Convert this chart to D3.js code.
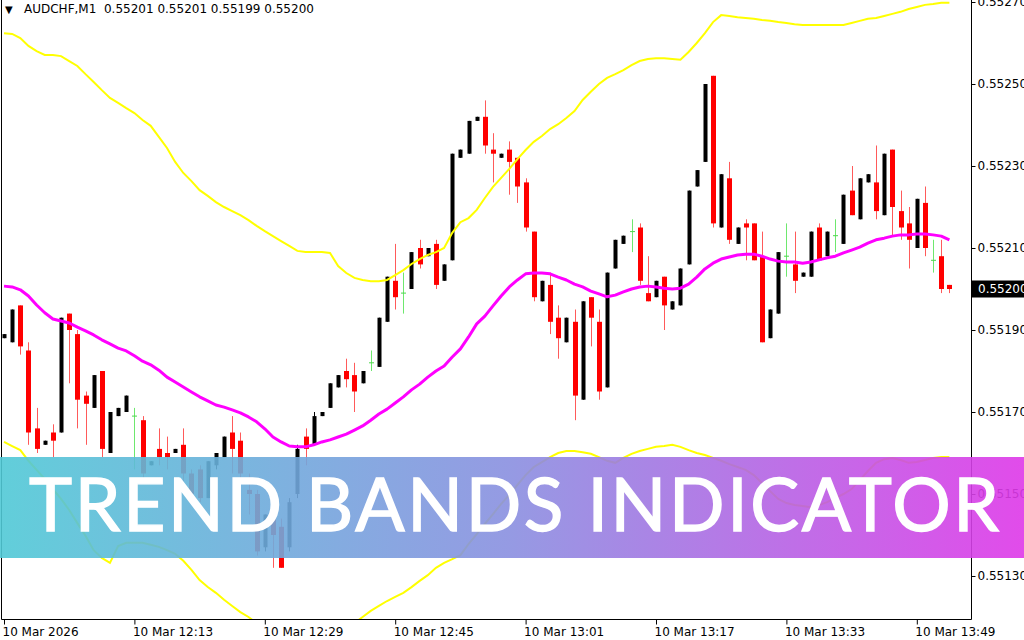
<!DOCTYPE html>
<html>
<head>
<meta charset="utf-8">
<script src="https://cdn.jsdelivr.net/npm/d3@7"></script>
<style>
  html, body { margin: 0; padding: 0; background: #fff; }
  svg { display: block; }
</style>
</head>
<body>
<div id="chart"><svg width="1024" height="640"></svg></div>
<script>
// AUDCHF M1, one value per bar
var symbol = "AUDCHF,M1";
var openP = [.55188,.55187,.55196,.55185,.55166,.55162,.55165,.55165,.55194,.55189,.55174,.55171,.55180,.55160,.55169,.55170,.55169,.55168,.55157,.55161,.55160,.55160,.55162,.55155,.55156,.55149,.55157,.55159,.55165,.55163,.55151,.55150,.55137,.55144,.55142,.55137,.55150,.55164,.55162,.55169,.55171,.55176,.55180,.55179,.55177,.55182,.55181,.55192,.55202,.55199,.55200,.55210,.55208,.55211,.55202,.55207,.55232,.55233,.55241,.55242,.55234,.55232,.55234,.55232,.55226,.55214,.55197,.55201,.55193,.55187,.55192,.55173,.55198,.55192,.55176,.55205,.55211,.55214,.55215,.55199,.55198,.55203,.55195,.55196,.55206,.55225,.55231,.55252,.55215,.55227,.55211,.55216,.55216,.55208,.55188,.55194,.55208,.55206,.55203,.55203,.55215,.55208,.55213,.55211,.55224,.55217,.55226,.55226,.55218,.55234,.55219,.55216,.55210,.55221,.55207,.55208,.55201];
var highP = [.55189,.55195,.55196,.55187,.55171,.55163,.55167,.55193,.55194,.55190,.55175,.55179,.55180,.55170,.55171,.55174,.55171,.55169,.55158,.55166,.55164,.55161,.55166,.55156,.55157,.55158,.55160,.55164,.55169,.55165,.55155,.55151,.55145,.55145,.55144,.55149,.55162,.55166,.55170,.55170,.55177,.55179,.55183,.55182,.55180,.55185,.55193,.55203,.55211,.55204,.55209,.55212,.55210,.55212,.55206,.55233,.55234,.55241,.55242,.55246,.55238,.55233,.55236,.55232,.55227,.55214,.55202,.55204,.55196,.55193,.55195,.55197,.55198,.55195,.55204,.55212,.55213,.55217,.55216,.55208,.55202,.55203,.55197,.55205,.55224,.55229,.55250,.55252,.55228,.55231,.55215,.55217,.55216,.55214,.55195,.55209,.55216,.55214,.55204,.55214,.55216,.55214,.55217,.55223,.55230,.55227,.55228,.55235,.55233,.55234,.55224,.55220,.55222,.55225,.55212,.55212,.55201];
var lowP = [.55188,.55187,.55184,.55162,.55160,.55162,.55159,.55165,.55177,.55166,.55162,.55171,.55159,.55160,.55169,.55170,.55156,.55153,.55157,.55157,.55156,.55160,.55153,.55149,.55148,.55149,.55156,.55159,.55155,.55154,.55145,.55135,.55136,.55132,.55132,.55136,.55149,.55157,.55162,.55169,.55171,.55176,.55176,.55170,.55177,.55180,.55181,.55192,.55195,.55194,.55200,.55205,.55208,.55200,.55202,.55207,.55232,.55233,.55241,.55233,.55226,.55232,.55223,.55221,.55214,.55197,.55197,.55189,.55183,.55187,.55168,.55173,.55186,.55173,.55176,.55205,.55211,.55209,.55201,.55197,.55198,.55190,.55195,.55196,.55206,.55225,.55231,.55215,.55215,.55211,.55211,.55207,.55207,.55187,.55188,.55194,.55203,.55199,.55203,.55203,.55207,.55208,.55209,.55211,.55218,.55217,.55226,.55217,.55218,.55213,.55212,.55205,.55210,.55208,.55204,.55199,.55199];
var closeP = [.55189,.55195,.55186,.55165,.55161,.55163,.55163,.55193,.55190,.55173,.55172,.55179,.55161,.55170,.55171,.55174,.55169,.55155,.55158,.55159,.55159,.55161,.55155,.55150,.55149,.55158,.55160,.55164,.55161,.55155,.55150,.55136,.55145,.55140,.55132,.55148,.55161,.55161,.55169,.55170,.55177,.55179,.55178,.55175,.55180,.55182,.55193,.55203,.55198,.55199,.55209,.55206,.55210,.55201,.55206,.55233,.55234,.55241,.55242,.55235,.55233,.55233,.55231,.55225,.55215,.55198,.55202,.55192,.55188,.55193,.55174,.55197,.55193,.55175,.55204,.55212,.55213,.55214,.55202,.55197,.55202,.55196,.55197,.55205,.55224,.55229,.55250,.55216,.55228,.55212,.55215,.55215,.55207,.55187,.55195,.55209,.55208,.55202,.55204,.55214,.55207,.55214,.55213,.55223,.55218,.55227,.55228,.55219,.55233,.55220,.55215,.55212,.55222,.55210,.55207,.55200,.55200];

// trend bands indicator buffers
var bandMid = [.552007,.552005,.551998,.551983,.551961,.551942,.551927,.551922,.551917,.551907,.551898,.551888,.551876,.551866,.551856,.551849,.551837,.551824,.551815,.551802,.551785,.551773,.551761,.551749,.551737,.551727,.551717,.551712,.551705,.551698,.551688,.551676,.551659,.551639,.551627,.551617,.551615,.551615,.551620,.551627,.551632,.551639,.551646,.551656,.551666,.551680,.551695,.551707,.551722,.551737,.551754,.551768,.551785,.551800,.551812,.551834,.551854,.551883,.551915,.551934,.551959,.551983,.552005,.552022,.552037,.552039,.552039,.552037,.552029,.552022,.552012,.552005,.551995,.551988,.551981,.551985,.551993,.552000,.552005,.552007,.552005,.552002,.552000,.552002,.552012,.552029,.552049,.552063,.552073,.552078,.552083,.552085,.552085,.552080,.552073,.552068,.552066,.552066,.552063,.552066,.552071,.552076,.552080,.552088,.552095,.552102,.552112,.552120,.552124,.552129,.552132,.552132,.552134,.552134,.552132,.552129,.552120];
var bandUp = [.552624,.552622,.552612,.552593,.552580,.552571,.552571,.552568,.552556,.552544,.552524,.552505,.552485,.552466,.552454,.552441,.552429,.552412,.552398,.552371,.552344,.552310,.552283,.552263,.552241,.552227,.552212,.552200,.552190,.552180,.552168,.552154,.552141,.552129,.552117,.552105,.552093,.552090,.552090,.552090,.552088,.552056,.552039,.552027,.552022,.552019,.552019,.552022,.552034,.552046,.552061,.552073,.552083,.552090,.552100,.552137,.552163,.552173,.552193,.552222,.552249,.552271,.552293,.552317,.552339,.552359,.552373,.552390,.552402,.552417,.552434,.552461,.552481,.552500,.552515,.552524,.552534,.552546,.552556,.552561,.552563,.552563,.552561,.552559,.552578,.552600,.552624,.552651,.552668,.552666,.552663,.552661,.552659,.552656,.552654,.552651,.552649,.552646,.552644,.552644,.552644,.552644,.552644,.552644,.552649,.552654,.552659,.552661,.552666,.552671,.552676,.552683,.552688,.552693,.552695,.552698,.552698];
var bandLow = [.551627,.551617,.551607,.551581,.551559,.551537,.551512,.551488,.551461,.551429,.551398,.551363,.551344,.551332,.551373,.551381,.551381,.551381,.551376,.551371,.551363,.551354,.551337,.551315,.551290,.551273,.551259,.551242,.551227,.551212,.551200,.551185,.551168,.551154,.551142,.551132,.551124,.551120,.551124,.551137,.551146,.551156,.551171,.551185,.551200,.551215,.551227,.551239,.551249,.551259,.551273,.551288,.551302,.551320,.551332,.551341,.551351,.551378,.551402,.551427,.551451,.551476,.551498,.551522,.551546,.551566,.551578,.551590,.551600,.551605,.551605,.551602,.551598,.551590,.551581,.551576,.551588,.551598,.551605,.551610,.551615,.551617,.551620,.551615,.551607,.551600,.551595,.551588,.551581,.551573,.551566,.551559,.551546,.551527,.551507,.551488,.551478,.551473,.551471,.551468,.551473,.551480,.551490,.551500,.551512,.551534,.551556,.551576,.551585,.551588,.551583,.551576,.551578,.551583,.551588,.551590,.551590];

var priceTicks = [0.5527, 0.5525, 0.5523, 0.5521, 0.5519, 0.5517, 0.5515, 0.5513];
var timeTickBars = [0, 16, 32, 48, 64, 80, 96, 112];
var timeTickLabels = ["10 Mar 2026", "10 Mar 12:13", "10 Mar 12:29", "10 Mar 12:45", "10 Mar 13:01", "10 Mar 13:17", "10 Mar 13:33", "10 Mar 13:49"];
var bannerText = "TREND BANDS INDICATOR";

var W = 1024, H = 640;
var plotR = 971.5, plotB = 619.5;
var font = "'DejaVu Sans', Tahoma, sans-serif";

var bars = closeP.map(function(c, i) {
    return { i: i, o: openP[i], h: highP[i], l: lowP[i], c: c };
});
var last = bars[bars.length - 1];

var x = d3.scaleLinear().domain([0, bars.length - 1]).range([4, 949.4]);
var y = d3.scaleLinear().domain([0.5527, 0.5513]).range([2, 576]);

var svg = d3.select("#chart").select("svg");
svg.append("rect").attr("width", W).attr("height", H).attr("fill", "#fff");

svg.append("defs").append("clipPath").attr("id", "plotclip")
    .append("rect").attr("x", 2).attr("y", 0).attr("width", plotR - 2).attr("height", plotB);

var g = svg.append("g").attr("clip-path", "url(#plotclip)");

// candles
var cg = g.append("g");
var kind = function(d) { return d.c > d.o ? "up" : (d.c < d.o ? "down" : "doji"); };

cg.selectAll("line.wick")
    .data(bars)
    .join("line")
    .attr("class", "wick")
    .attr("x1", function(d) { return Math.round(x(d.i)) + 0.5; })
    .attr("x2", function(d) { return Math.round(x(d.i)) + 0.5; })
    .attr("y1", function(d) { return y(d.h); })
    .attr("y2", function(d) { return y(d.l); })
    .attr("stroke", function(d) {
        var k = kind(d);
        return k == "up" ? "#000" : (k == "down" ? "#ff5a5a" : "#6ee86e");
    })
    .attr("stroke-width", 1);

cg.selectAll("rect.body")
    .data(bars.filter(function(d) { return kind(d) != "doji"; }))
    .join("rect")
    .attr("class", "body")
    .attr("x", function(d) { return Math.round(x(d.i)) - (kind(d) == "up" ? 1.5 : 2); })
    .attr("width", function(d) { return kind(d) == "up" ? 4 : 5; })
    .attr("y", function(d) { return y(Math.max(d.o, d.c)); })
    .attr("height", function(d) { return Math.max(2, Math.abs(y(d.o) - y(d.c))); })
    .attr("fill", function(d) { return kind(d) == "up" ? "#000" : "#ff0000"; });

cg.selectAll("line.cross")
    .data(bars.filter(function(d) { return kind(d) == "doji"; }))
    .join("line")
    .attr("class", "cross")
    .attr("x1", function(d) { return Math.round(x(d.i)) - 2; })
    .attr("x2", function(d) { return Math.round(x(d.i)) + 3; })
    .attr("y1", function(d) { return y(d.c); })
    .attr("y2", function(d) { return y(d.c); })
    .attr("stroke", "#4cd84c")
    .attr("stroke-width", 1);

// bands
var line = d3.line().x(function(d, i) { return x(i); }).y(function(d) { return y(d); });
g.append("path").datum(bandUp).attr("d", line)
    .attr("fill", "none").attr("stroke", "#ffff00").attr("stroke-width", 2);
g.append("path").datum(bandLow).attr("d", line)
    .attr("fill", "none").attr("stroke", "#ffff00").attr("stroke-width", 2);
g.append("path").datum(bandMid).attr("d", line)
    .attr("fill", "none").attr("stroke", "#ff00ff").attr("stroke-width", 3)
    .attr("stroke-linejoin", "round");

// frame
svg.append("path")
    .attr("d", "M1.5,0V" + plotB + "H" + plotR + "V0")
    .attr("fill", "none").attr("stroke", "#000").attr("stroke-width", 1);

// price axis (labels run past the window edge, as in the terminal)
var yAxis = d3.axisRight(y).tickValues(priceTicks).tickSize(4).tickPadding(2)
    .tickFormat(d3.format(".5f"));
var ya = svg.append("g").attr("transform", "translate(" + plotR + ",0)").call(yAxis);
ya.select(".domain").remove();
ya.selectAll("line").attr("stroke", "#000");
ya.selectAll("text").attr("font-family", font).attr("font-size", 12).attr("fill", "#000");

// current price marker
svg.append("rect")
    .attr("x", plotR + 0.5).attr("y", y(last.c) - 8.5)
    .attr("width", W - plotR).attr("height", 17).attr("fill", "#000");
svg.append("text")
    .attr("x", plotR + 6.5).attr("y", y(last.c)).attr("dy", "0.35em")
    .attr("font-family", font).attr("font-size", 12).attr("fill", "#fff")
    .text(d3.format(".5f")(last.c));

// time axis
var xAxis = d3.axisBottom(x).tickValues(timeTickBars).tickSize(5).tickPadding(3)
    .tickFormat(function(d, i) { return timeTickLabels[i]; });
var xa = svg.append("g").attr("transform", "translate(0," + plotB + ")").call(xAxis);
xa.select(".domain").remove();
xa.selectAll("line").attr("stroke", "#000");
xa.selectAll("text").attr("font-family", font).attr("font-size", 12).attr("fill", "#000")
    .attr("text-anchor", "start").attr("dx", -2);

// header
svg.append("text").attr("x", 5).attr("y", 13)
    .attr("font-family", font).attr("font-size", 10).attr("fill", "#000").text("\u25BC");
svg.append("text").attr("x", 24).attr("y", 13)
    .attr("font-family", font).attr("font-size", 12).attr("fill", "#000")
    .attr("xml:space", "preserve")
    .text(symbol + "  " + [last.o, last.h, last.l, last.c].map(d3.format(".5f")).join(" "));

// banner
var grad = svg.select("defs").append("linearGradient").attr("id", "bannerGrad")
    .attr("x1", "0%").attr("x2", "100%").attr("y1", "0%").attr("y2", "0%");
grad.append("stop").attr("offset", "0%").attr("stop-color", "#50c9d6");
grad.append("stop").attr("offset", "50%").attr("stop-color", "#8a8fe0");
grad.append("stop").attr("offset", "100%").attr("stop-color", "#de38e8");

svg.append("rect").attr("x", 0).attr("y", 457).attr("width", W).attr("height", 101)
    .attr("fill", "url(#bannerGrad)").attr("fill-opacity", 0.9);
svg.append("text")
    .attr("x", 29).attr("y", 531)
    .attr("textLength", 970).attr("lengthAdjust", "spacing")
    .attr("font-family", "Lato, 'Open Sans', sans-serif").attr("font-size", 73)
    .attr("fill", "#fff").attr("stroke", "#fff").attr("stroke-width", 1.4)
    .text(bannerText);
</script>
</body>
</html>
